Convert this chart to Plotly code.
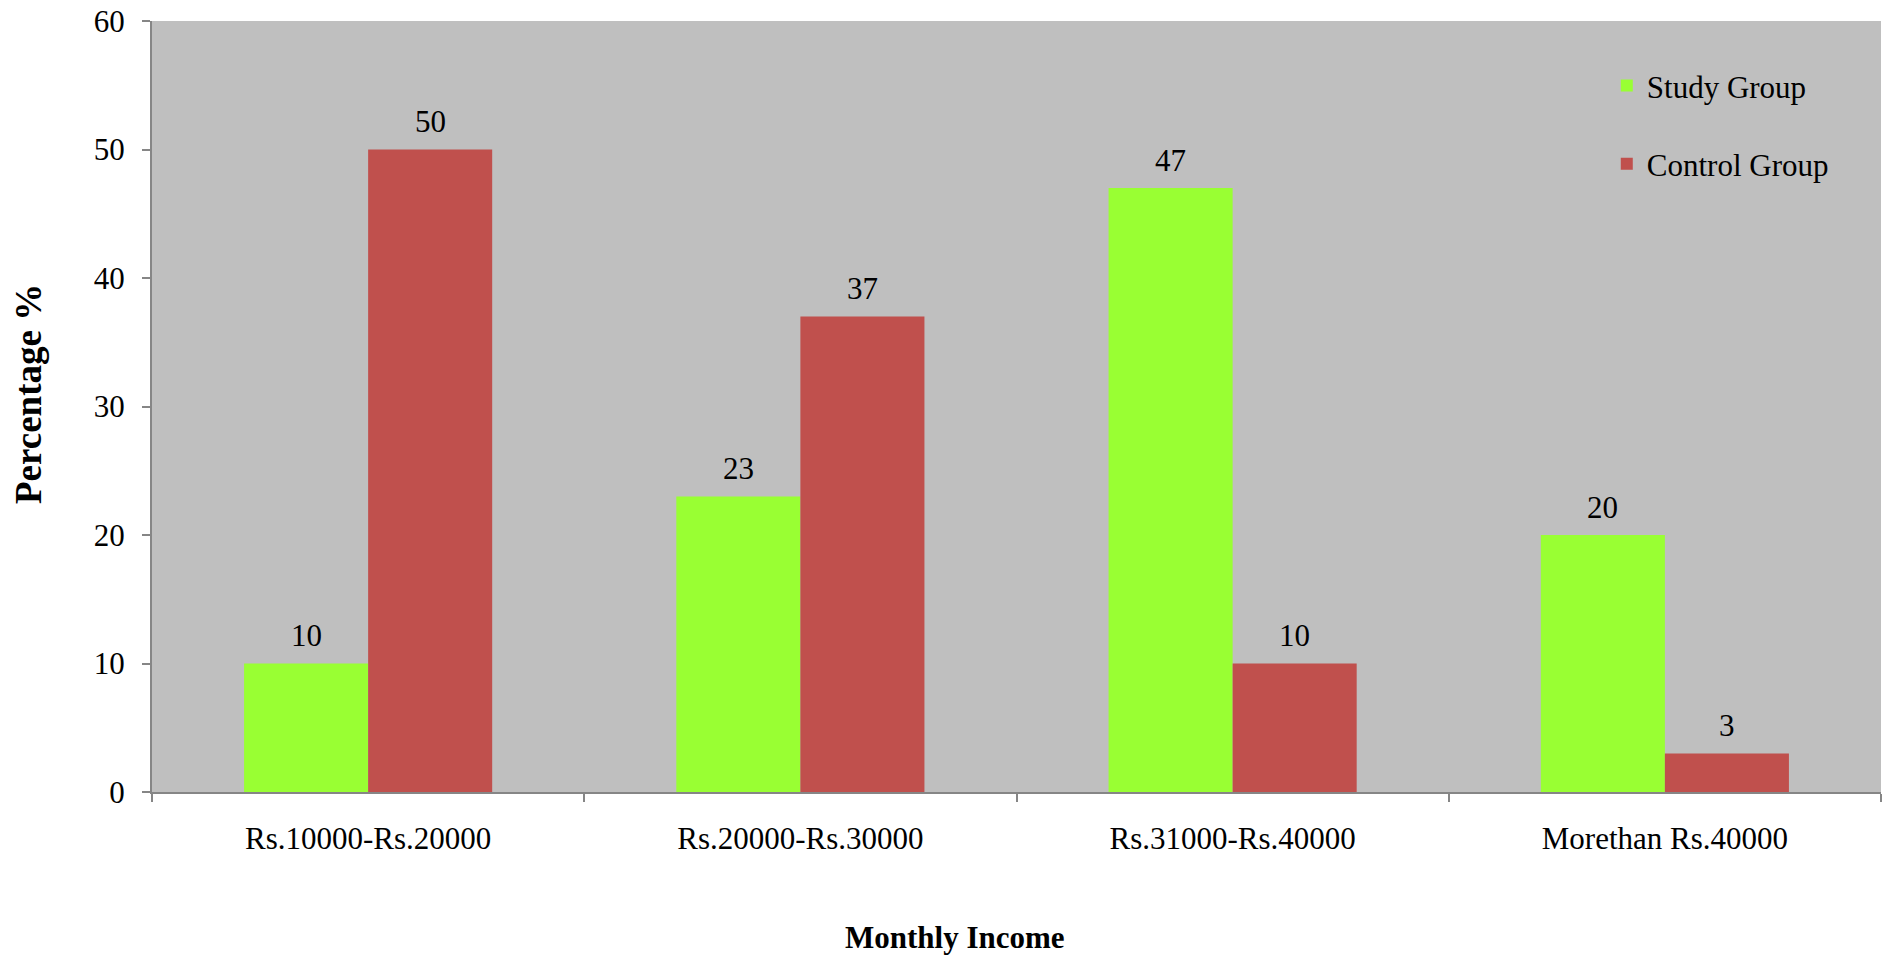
import plotly.graph_objects as go

# Monthly income brackets and the share of each group (%)
categories = ["Rs.10000-Rs.20000", "Rs.20000-Rs.30000", "Rs.31000-Rs.40000", "Morethan Rs.40000"]
study_group = [10, 23, 47, 20]
control_group = [50, 37, 10, 3]
y_ticks = [0, 10, 20, 30, 40, 50, 60]

FONT = "Liberation Serif"
SIZE = 31
GREEN = "#99FF33"
RED = "#C0504D"
AXIS = "#868686"

W, H = 1883, 957
margin = dict(l=152, r=2, t=21, b=165)
BARGAP = 0.426

fig = go.Figure()
fig.add_trace(go.Bar(name="Study Group", x=categories, y=study_group,
                     legendgroup="s", marker=dict(color=GREEN, line=dict(width=0))))
fig.add_trace(go.Bar(name="Control Group", x=categories, y=control_group,
                     legendgroup="c", marker=dict(color=RED, line=dict(width=0))))

# value labels above each bar, offset by half a bar width from the category centre
plot_w = W - margin["l"] - margin["r"]
band = plot_w / len(categories)
bar_w = band * (1 - BARGAP) / 2
for series, shift in ((study_group, -bar_w / 2), (control_group, bar_w / 2)):
    for cat, val in zip(categories, series):
        fig.add_annotation(x=cat, y=val, text=str(val), showarrow=False,
                           xshift=shift, yshift=28, yanchor="middle",
                           font=dict(family=FONT, size=SIZE, color="black"))

# axis titles
fig.add_annotation(text="<b>Monthly Income</b>", xref="paper", yref="paper",
                   x=(955 - margin["l"]) / plot_w, y=0, yshift=-145,
                   xanchor="center", yanchor="middle", showarrow=False,
                   font=dict(family=FONT, size=SIZE, color="black"))
fig.add_annotation(text="<b>Percentage %</b>", xref="paper", yref="paper",
                   x=0, xshift=29 - margin["l"], y=(792 - 394) / (792 - 21),
                   xanchor="center", yanchor="middle", textangle=-90, showarrow=False,
                   font=dict(family=FONT, size=37, color="black"))

fig.update_layout(
    width=W, height=H,
    margin=margin,
    paper_bgcolor="white",
    plot_bgcolor="#BFBFBF",
    barmode="group",
    bargap=BARGAP,
    bargroupgap=0,
    font=dict(family=FONT, size=SIZE, color="black"),
    showlegend=True,
    legend=dict(x=0.8414, y=0.951, xanchor="left", yanchor="top",
                bgcolor="rgba(0,0,0,0)", borderwidth=0,
                font=dict(family=FONT, size=SIZE),
                traceorder="grouped", tracegroupgap=35),
)

fig.update_xaxes(
    type="category",
    showgrid=False,
    showline=True, linecolor=AXIS, linewidth=2,
    ticks="outside", tickson="boundaries", ticklen=8, tickcolor=AXIS, tickwidth=2,
    ticklabelstandoff=18,
    tickfont=dict(family=FONT, size=SIZE),
)
fig.update_yaxes(
    range=[0, 60],
    tickvals=y_ticks,
    showgrid=False, zeroline=False,
    showline=True, linecolor=AXIS, linewidth=2,
    ticks="outside", ticklen=8, tickcolor=AXIS, tickwidth=2,
    ticklabelstandoff=11,
    tickfont=dict(family=FONT, size=SIZE),
)

fig.write_html("out.html")
